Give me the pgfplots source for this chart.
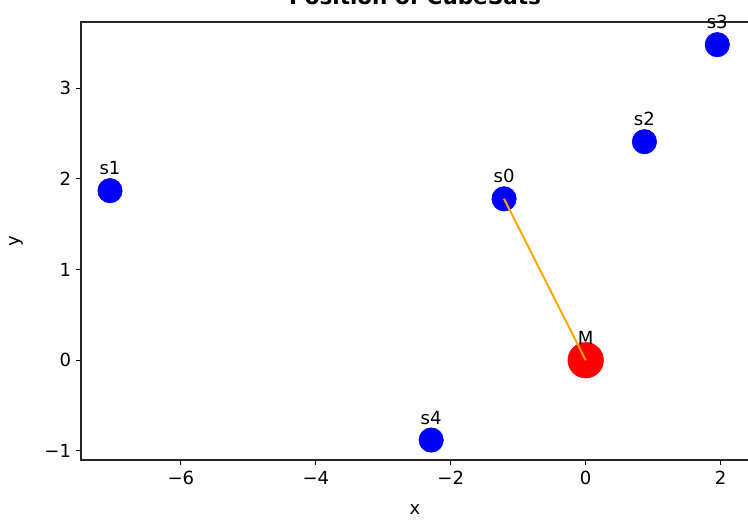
\documentclass[border=0pt]{standalone}
\usepackage{fontspec}
\setmainfont{DejaVu Sans}
\usepackage{pgfplots}
\pgfplotsset{compat=1.18}
\definecolor{mplorange}{HTML}{FFA500}
\begin{document}
\begin{tikzpicture}
\begin{axis}[
  set layers,
  at={(58.32pt,43.2pt)}, anchor=south west,
  width=480.96pt, height=315.36pt, scale only axis,
  xmin=-7.48, xmax=2.42, ymin=-1.10, ymax=3.73,
  xtick={-6,-4,-2,0,2}, xticklabels={−6,−4,−2,0,2},
  ytick={-1,0,1,2,3}, yticklabels={−1,0,1,2,3},
  tick align=outside, tick pos=left,
  major tick length=3.6pt,
  every tick/.style={black, line width=0.8pt},
  axis line style={line width=0.9pt, draw=black!85},
  tick label style={font=\fontsize{13}{15}\selectfont},
  xticklabel style={yshift=-1pt},
  title={\bfseries Position of CubeSats},
  title style={at={(axis description cs:0.5,1.0205)}, anchor=base, font=\fontsize{15.5}{18}\selectfont},
  xlabel={x},
  xlabel style={at={(axis description cs:0.5,-0.114)}, anchor=center, font=\fontsize{13}{15}\selectfont},
  ylabel={y},
  ylabel style={at={(axis description cs:-0.0973,0.5)}, anchor=center, rotate=0, font=\fontsize{13}{15}\selectfont},
  clip=false,
  nodes near coords align={anchor=base},
  every node near coord/.style={anchor=base, yshift=11.5pt, text=black, font=\fontsize{13}{15}\selectfont},
]
\addplot[only marks, mark=*, mark size=12.8pt, draw=red, fill=red,
  nodes near coords, point meta=explicit symbolic]
  table[meta=label] {
x y label
0 0 M
};
\addplot[only marks, mark=*, mark size=8.8pt, draw=blue, fill=blue,
  nodes near coords, point meta=explicit symbolic]
  table[meta=label] {
x y label
-1.21 1.78 s0
-7.05 1.87 s1
0.87 2.41 s2
1.95 3.48 s3
-2.29 -0.88 s4
};
\addplot[mplorange, line width=1.4pt, on layer=axis foreground] table {
x y
-1.21 1.78
0 0
};
\end{axis}
\pgfresetboundingbox
\path[use as bounding box] (0,0) rectangle (538.56pt,374.4pt);
\end{tikzpicture}
\end{document}
